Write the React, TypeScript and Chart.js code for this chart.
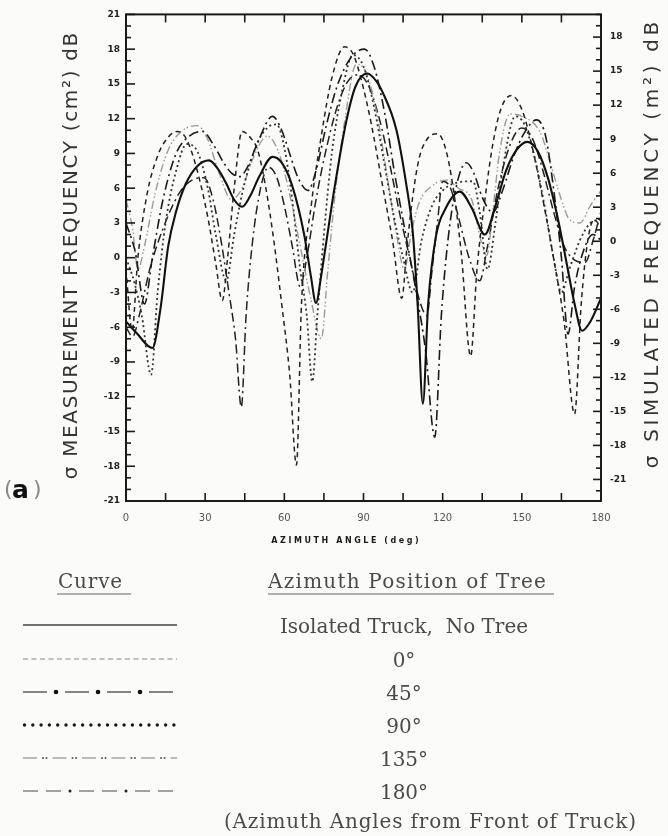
import React, { useEffect, useRef } from "react";
import { Chart, registerables } from "chart.js";

Chart.register(...registerables);

// ---- data: [azimuth angle (deg), sigma (dB)] ----
const isolatedTruck: [number, number][] = [
  [0, -5.5], [4, -6.5], [10, -7.8], [13, -4.5], [16, 1], [19, 4], [22.7, 6.4], [27, 7.9], [31.5, 8.4], [35, 7.6],
  [38, 6.4], [41, 5], [44, 4.4], [47, 5.3], [50.5, 7], [55.5, 8.7], [59, 8.2], [63, 6.2], [67.6, 1.9], [70, -1.5],
  [72, -3.9], [74, -1.5], [76, 1.5], [79, 6], [83.5, 11.8], [87, 14.8], [91.5, 15.9], [95, 15.2], [97, 14.4], [102.5, 11],
  [106.3, 6.2], [108.6, 2.4], [110.5, -4], [112.5, -12.6], [114.5, -4], [117.5, 1.9], [121, 4.2], [126.5, 5.7], [131, 4.3], [136, 2],
  [140, 4.5], [144, 7.5], [148, 9.3], [152, 10], [156, 9.2], [160, 6.8], [164, 3], [167, -0.5], [170, -4], [172.8, -6.3],
  [176, -5.5], [180, -3.5],
];

const tree0: [number, number][] = [
  [0, -1], [2.3, -6.3], [4.5, 0], [8, 5.5], [12, 8.8], [16, 10.4], [19.5, 10.9], [23, 10.2], [27, 7.5], [31, 3.5],
  [34, -0.5], [36.5, -3.7], [38.5, 0], [41, 6], [44, 10.9], [47, 10.4], [50, 9.2], [53, 6], [56, 1.5], [59, -4],
  [62, -10], [64.6, -17.9], [66.5, -4], [70.3, 4.7], [74, 10.5], [78, 15.5], [82.8, 18.2], [86, 17.6], [89, 15.5], [93, 11.5],
  [97, 6.5], [101, 1.5], [104.5, -3.5], [106.5, 1], [108.5, 5], [111, 8.5], [114, 10.2], [118, 10.7], [121, 9.5], [124, 6],
  [127, 0.5], [130.6, -8.5], [133, -1], [136, 5], [139, 9.8], [142, 12.8], [146, 14], [150, 12.8], [154, 9.5], [158, 5],
  [162, 0], [166, -5.5], [170, -13.5], [172.5, -4], [175, 1.5], [177.5, 3.3], [180, 2.5],
];

const tree45: [number, number][] = [
  [0, 3], [3.5, 0.5], [7, -4], [10, 0], [14, 5], [19, 9], [24, 10.5], [29, 10.9], [33, 9.8], [37, 8.2],
  [40, 7.3], [43, 7], [46, 7.8], [50, 10], [55.5, 12.2], [59, 11], [62, 9], [65, 7], [69, 5.8], [72, 7.5],
  [76, 11.5], [80, 14.8], [85, 17.2], [90.4, 18], [94, 16.5], [98, 12.5], [102, 7], [106, 2], [110, -3], [113.5, -8],
  [117, -15.5], [119.5, -5], [122, 1.5], [125, 6], [129, 8.2], [132, 7.2], [135, 5.2], [139, 3.9], [143, 6], [147, 8.8],
  [151, 10.8], [155.6, 11.9], [159, 10.5], [162, 6], [165, 0], [167.5, -6.6], [170, -2.5], [174, 1], [177, 2], [180, 1.5],
];

const tree90: [number, number][] = [
  [0, 0], [3, -2], [6, -5], [9.5, -10.1], [12, -3], [15, 3], [19, 7.5], [23, 9.8], [27, 9.2], [31, 6],
  [34, 2], [38, -2], [41, 2], [45, 6.5], [50, 10], [54, 11.3], [57, 11.5], [60, 9.5], [63, 5], [66, -1],
  [68.5, -5], [70.6, -10.7], [72.5, -5], [75, 2], [78, 9], [82, 14.5], [86, 17.5], [90, 16.5], [94, 13], [98, 8],
  [102, 3], [105, 0], [108.6, -3], [112, 1.5], [116, 4.5], [121, 6], [126, 6.5], [131.5, 6.6], [134, 4], [137, -1],
  [140, 3], [143, 8], [147.5, 12.2], [151, 11.5], [155, 8.5], [159, 4], [162, 0], [165, -3], [168, -1], [172, 1.5],
  [176, 3], [180, 3.3],
];

const tree135: [number, number][] = [
  [0, 5], [2.5, 2.5], [4.5, -1], [7, 1], [11, 5.5], [16, 9.3], [21, 10.9], [27, 11.4], [31, 10.2], [35, 7.5],
  [40, 5], [44, 6], [48, 8.5], [53.5, 10.5], [58, 9], [62, 5.5], [66, 1], [70, -3.5], [74, -7], [76.5, -1],
  [79, 5], [83, 12], [87.3, 16.7], [91, 16], [95, 12.5], [99, 7], [102.5, 2], [105.5, -1], [108, 2], [111, 4.7],
  [116, 6.2], [121.5, 6.7], [126, 6], [131, 5], [134.5, 1.5], [136.7, 0.2], [139, 4], [141.5, 9], [145.5, 12.4], [150, 12.2],
  [157, 10.8], [161, 8], [165, 5], [168, 3.3], [172, 3], [176, 4.5], [180, 5.8],
];

const tree180: [number, number][] = [
  [0, -6], [2.5, -6.8], [5, -5], [9, -1], [14, 2.5], [20, 5.5], [25, 6.7], [29.6, 6.9], [33, 5], [36, 1.5],
  [39, -3], [41.5, -7], [43.7, -12.9], [45.5, -5], [48, 1.5], [51, 6], [54, 7.8], [57, 7], [60, 4.5], [63, 1],
  [66, -2.5], [68.5, 0], [72, 5], [76, 9.5], [80, 13], [84, 15.2], [88, 15.8], [92, 14.8], [96, 12], [100, 8],
  [104, 3.5], [108, -0.5], [111, -3.5], [114, -5], [116, -1], [118, 3], [120, 6.6], [123, 6], [126, 3.5], [130, 0],
  [134, -2], [137, 1], [141, 6], [146, 10], [150, 11.2], [154, 10.3], [158, 7.5], [162, 4], [166, 1], [170, -0.2],
  [174, -0.4], [177, 1.5], [180, 4],
];

const xTickValues = [0, 30, 60, 90, 120, 150, 180];
const leftTickValues = [-21, -18, -15, -12, -9, -6, -3, 0, 3, 6, 9, 12, 15, 18, 21];
const rightTickValues = [-21, -18, -15, -12, -9, -6, -3, 0, 3, 6, 9, 12, 15, 18];
const curveLabels = ["Isolated Truck,  No Tree", "0°", "45°", "90°", "135°", "180°"];

const leftTitle = "σ MEASUREMENT FREQUENCY (cm²) dB";
const rightTitle = "σ SIMULATED FREQUENCY (m²) dB";
const xTitle = "AZIMUTH ANGLE (deg)";

// ---- styles ----
const seriesStyles = [
  { color: "#111", width: 2.1, dash: [] as number[] },
  { color: "#222", width: 1.5, dash: [5, 4] },
  { color: "#1a1a1a", width: 1.6, dash: [10, 4, 2, 4] },
  { color: "#333", width: 1.8, dash: [2, 3] },
  { color: "#9a9a9a", width: 1.4, dash: [8, 3, 1.5, 2, 1.5, 3] },
  { color: "#222", width: 1.5, dash: [9, 4, 9, 4, 2, 4] },
];

function fitText(
  ctx: CanvasRenderingContext2D,
  text: string,
  cx: number,
  cy: number,
  width: number,
  font: string,
  color: string,
  rot = 0
) {
  ctx.save();
  ctx.translate(cx, cy);
  ctx.rotate(rot);
  ctx.font = font;
  ctx.fillStyle = color;
  ctx.textAlign = "center";
  ctx.textBaseline = "middle";
  (ctx as any).letterSpacing = "0px";
  const w = ctx.measureText(text).width;
  const n = Array.from(text).length;
  const ls = (width - w) / n;
  (ctx as any).letterSpacing = ls.toFixed(2) + "px";
  ctx.fillText(text, ls / 2, 0);
  ctx.restore();
}

function seg(ctx: CanvasRenderingContext2D, x1: number, y1: number, x2: number, y2: number) {
  ctx.beginPath();
  ctx.moveTo(x1, y1);
  ctx.lineTo(x2, y2);
  ctx.stroke();
}

function dot(ctx: CanvasRenderingContext2D, x: number, y: number, r: number) {
  ctx.beginPath();
  ctx.arc(x, y, r, 0, Math.PI * 2);
  ctx.fill();
}

function drawSample(ctx: CanvasRenderingContext2D, idx: number, x0: number, x1: number, y: number) {
  ctx.save();
  ctx.lineCap = "butt";
  if (idx === 0) {
    ctx.strokeStyle = "#444";
    ctx.lineWidth = 1.3;
    seg(ctx, x0, y, x1, y);
  } else if (idx === 1) {
    ctx.strokeStyle = "#888";
    ctx.lineWidth = 1.2;
    ctx.setLineDash([5, 3.5]);
    seg(ctx, x0, y, x1, y);
  } else if (idx === 2) {
    ctx.strokeStyle = "#444";
    ctx.fillStyle = "#111";
    ctx.lineWidth = 1.3;
    let x = x0;
    while (x < x1) {
      seg(ctx, x, y, Math.min(x + 24, x1), y);
      x += 24 + 9;
      if (x < x1 - 4) dot(ctx, x, y, 2.3);
      x += 9;
    }
  } else if (idx === 3) {
    ctx.fillStyle = "#1a1a1a";
    for (let x = x0 + 1.5; x <= x1; x += 8.3) dot(ctx, x, y, 1.7);
  } else if (idx === 4) {
    ctx.strokeStyle = "#888";
    ctx.fillStyle = "#555";
    ctx.lineWidth = 1.1;
    let x = x0;
    while (x < x1) {
      seg(ctx, x, y, Math.min(x + 14, x1), y);
      x += 14 + 6;
      if (x < x1) dot(ctx, x, y, 1.0);
      x += 3.5;
      if (x < x1) dot(ctx, x, y, 1.0);
      x += 6;
    }
  } else {
    ctx.strokeStyle = "#666";
    ctx.fillStyle = "#222";
    ctx.lineWidth = 1.2;
    let x = x0;
    while (x < x1) {
      seg(ctx, x, y, Math.min(x + 15, x1), y);
      x += 15 + 8;
      if (x < x1) seg(ctx, x, y, Math.min(x + 15, x1), y);
      x += 15 + 9;
      if (x < x1) dot(ctx, x, y, 1.5);
      x += 9;
    }
  }
  ctx.restore();
}

const paperPlugin = {
  id: "paper",
  beforeDraw(chart: any) {
    const ctx: CanvasRenderingContext2D = chart.ctx;
    ctx.save();
    ctx.fillStyle = "#fbfbfa";
    ctx.fillRect(0, 0, chart.width, chart.height);
    ctx.restore();
  },
  afterDraw(chart: any) {
    const ctx: CanvasRenderingContext2D = chart.ctx;
    const a = chart.chartArea;
    const { x, y, y2 } = chart.scales;
    ctx.save();
    // frame
    ctx.strokeStyle = "#1a1a1a";
    ctx.lineWidth = 2;
    ctx.strokeRect(a.left, a.top, a.right - a.left, a.bottom - a.top);
    // inward tick marks
    ctx.lineWidth = 1.6;
    for (let v = -21; v <= 21; v++) {
      const py = y.getPixelForValue(v);
      seg(ctx, a.left, py, a.left + (v % 3 === 0 ? 9 : 5), py);
    }
    for (let v = -22; v <= 20; v++) {
      const py = y2.getPixelForValue(v);
      seg(ctx, a.right - (v % 3 === 0 ? 8 : 5), py, a.right, py);
    }
    for (let d = 15; d < 180; d += 15) {
      const px = x.getPixelForValue(d);
      seg(ctx, px, a.bottom, px, a.bottom - 8);
      seg(ctx, px, a.top, px, a.top + 8);
    }
    ctx.restore();

    // axis titles
    fitText(ctx, leftTitle, 72, 256, 448, "20px 'DejaVu Sans'", "#333", -Math.PI / 2);
    fitText(ctx, rightTitle, 653, 245, 450, "20px 'DejaVu Sans'", "#333", -Math.PI / 2);
    fitText(ctx, xTitle, 345, 541, 150, "bold 8px 'DejaVu Sans'", "#1a1a1a", 0);

    // (a) panel label
    ctx.save();
    ctx.textBaseline = "middle";
    ctx.textAlign = "left";
    ctx.fillStyle = "#888";
    ctx.font = "22px 'DejaVu Sans'";
    ctx.fillText("(", 4, 490);
    ctx.fillStyle = "#111";
    ctx.font = "bold 25px 'DejaVu Sans'";
    ctx.fillText("a", 12, 491);
    ctx.fillStyle = "#888";
    ctx.font = "22px 'DejaVu Sans'";
    ctx.fillText(")", 33, 490);
    ctx.restore();

    // legend table
    const serif = "'DejaVu Serif'";
    const txt = "#4a4a4a";
    fitText(ctx, "Curve", 90, 583, 65, `20px ${serif}`, txt);
    fitText(ctx, "Azimuth Position of Tree", 407, 583, 279, `20px ${serif}`, txt);
    ctx.save();
    ctx.strokeStyle = "#666";
    ctx.lineWidth = 1.2;
    seg(ctx, 57, 594, 131, 594);
    seg(ctx, 268, 594, 554, 594);
    ctx.restore();
    const rowY = [625, 659, 692, 725, 758, 791];
    curveLabels.forEach((label, i) => {
      drawSample(ctx, i, 23, 177, rowY[i]);
      ctx.save();
      ctx.font = `20px ${serif}`;
      ctx.fillStyle = txt;
      ctx.textAlign = "center";
      ctx.textBaseline = "middle";
      ctx.fillText(label, 404, rowY[i] + 3);
      ctx.restore();
    });
    fitText(ctx, "(Azimuth Angles from Front of Truck)", 430, 823, 413, `20px ${serif}`, txt);
  },
};

export default function App() {
  const ref = useRef<HTMLCanvasElement | null>(null);

  useEffect(() => {
    if (!ref.current) return;
    const series = [isolatedTruck, tree0, tree45, tree90, tree135, tree180];
    const tickFont = { family: "'DejaVu Sans'", size: 9, weight: "bold" as const };
    const chart = new Chart(ref.current, {
      type: "line",
      data: {
        datasets: series.map((s, i) => ({
          label: curveLabels[i],
          data: s.map(([d, v]) => ({ x: d, y: v })),
          borderColor: seriesStyles[i].color,
          borderWidth: seriesStyles[i].width,
          borderDash: seriesStyles[i].dash,
          pointRadius: 0,
          fill: false,
          cubicInterpolationMode: "monotone" as const,
          yAxisID: "y",
        })),
      },
      options: {
        animation: false,
        responsive: false,
        devicePixelRatio: 1,
        layout: { padding: { top: 12, left: 0, right: 0, bottom: 0 } },
        plugins: { legend: { display: false }, tooltip: { enabled: false }, title: { display: false } },
        scales: {
          x: {
            type: "linear",
            position: "bottom",
            min: 0,
            max: 180,
            afterBuildTicks: (s: any) => {
              s.ticks = xTickValues.map((v) => ({ value: v }));
            },
            afterFit: (s: any) => {
              s.height = 335;
            },
            grid: { display: false, drawTicks: false },
            border: { display: false },
            ticks: {
              color: "#555",
              font: { family: "'DejaVu Sans'", size: 10 },
              padding: 11,
              maxRotation: 0,
              autoSkip: false,
            },
          },
          y: {
            type: "linear",
            position: "left",
            min: -21,
            max: 21,
            afterBuildTicks: (s: any) => {
              s.ticks = leftTickValues.map((v) => ({ value: v }));
            },
            afterFit: (s: any) => {
              s.width = 126;
            },
            grid: { display: false, drawTicks: false },
            border: { display: false },
            ticks: { color: "#222", font: tickFont, padding: 6, autoSkip: false },
          },
          y2: {
            type: "linear",
            position: "right",
            min: -22.9,
            max: 20,
            afterBuildTicks: (s: any) => {
              s.ticks = rightTickValues.map((v) => ({ value: v }));
            },
            afterFit: (s: any) => {
              s.width = 67;
            },
            grid: { display: false, drawTicks: false },
            border: { display: false },
            ticks: { color: "#222", font: tickFont, padding: 9, autoSkip: false },
          },
        },
      },
      plugins: [paperPlugin],
    });
    return () => chart.destroy();
  }, []);

  return (
    <div style={{ position: "fixed", left: 0, top: 0, width: 668, height: 836, background: "#fbfbfa" }}>
      <canvas ref={ref} width={668} height={836} style={{ display: "block", width: 668, height: 836 }} />
    </div>
  );
}
